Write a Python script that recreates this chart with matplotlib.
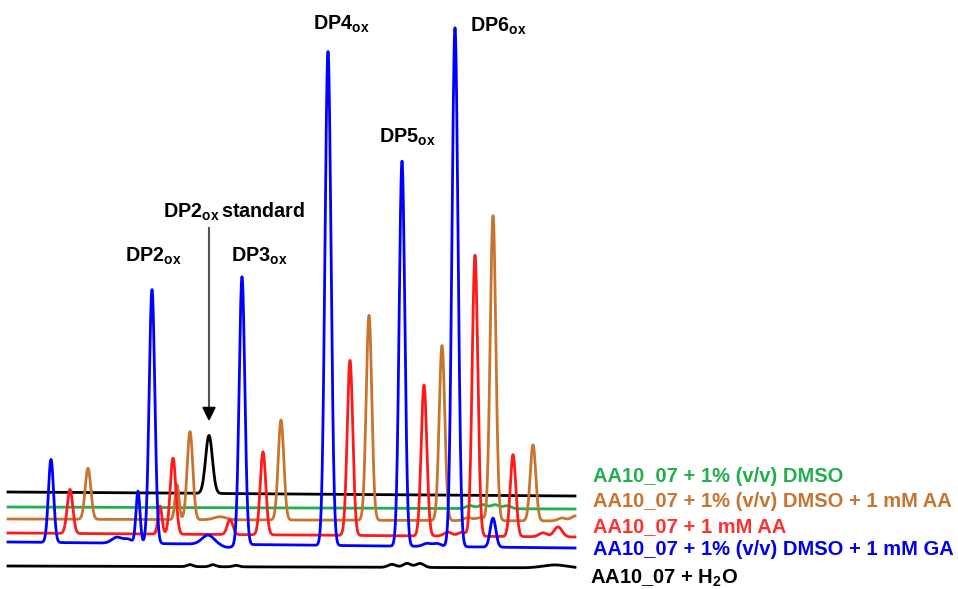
import matplotlib.pyplot as plt
import numpy as np

plt.rcParams.update({
    "font.family": "Liberation Sans",
    "font.weight": "bold",
    "mathtext.fontset": "custom",
    "mathtext.rm": "Liberation Sans:bold",
    "mathtext.it": "Liberation Sans:bold",
    "mathtext.bf": "Liberation Sans:bold",
})

# --- peak tables: retention time (min), height, width (sigma, min) ---
std_rt = [10.45]
std_h = [58]
std_w = [0.17]

dmso_rt = [23.5, 24.15, 24.75, 25.35]
dmso_h = [3, 4, 4, 3]
dmso_w = [0.2, 0.2, 0.2, 0.2]

dmso_aa_rt = [4.4, 8.85, 9.5, 11.0, 14.05, 18.45, 22.1, 23.4, 24.0, 24.65, 26.65, 28.1, 28.75]
dmso_aa_h = [51, 35, 88, 3, 100, 205, 175, 3, 3, 305, 76, 3, 5]
dmso_aa_w = [0.14, 0.1, 0.14, 0.3, 0.14, 0.14, 0.14, 0.2, 0.2, 0.14, 0.14, 0.2, 0.2]

aa_rt = [3.5, 8.0, 8.65, 11.5, 13.15, 17.5, 21.2, 22.4, 23.1, 23.75, 25.65, 27.15, 27.9]
aa_h = [44, 28, 76, 15, 83, 175, 151, 4, 4, 281, 82, 4, 10]
aa_w = [0.14, 0.1, 0.14, 0.14, 0.14, 0.14, 0.14, 0.2, 0.2, 0.14, 0.14, 0.2, 0.2]

ga_rt = [2.55, 5.85, 6.4, 6.9, 7.6, 10.4, 11.4, 12.1, 16.4, 20.1, 21.35, 21.85, 22.75, 24.65]
ga_h = [83, 6, 4, 52, 254, 9, -3, 268, 494, 385, 3, 3, 519, 29]
ga_w = [0.13, 0.25, 0.2, 0.1, 0.14, 0.3, 0.3, 0.14, 0.15, 0.14, 0.2, 0.2, 0.15, 0.14]

h2o_rt = [9.5, 10.65, 11.8, 19.6, 20.35, 21.0, 27.75]
h2o_h = [2, 2, 1.5, 3, 4, 4, 3]
h2o_w = [0.15, 0.15, 0.15, 0.2, 0.2, 0.2, 0.6]

# baseline drift over the run
std_drift = -4
dmso_drift = -2
dmso_aa_drift = -2
aa_drift = -4
ga_drift = -6
h2o_drift = -2

t = np.linspace(0.4, 28.75, 3000)


def trace(rt, h, w, drift):
    y = drift * (t - t[0]) / (t[-1] - t[0])
    for r, a, s in zip(rt, h, w):
        y = y + a * np.exp(-0.5 * ((t - r) / s) ** 2)
    return y


fig = plt.figure(figsize=(9.58, 5.89), dpi=100)
ax = fig.add_axes([0, 0, 1, 1])
ax.set_xlim(0, 47.9)
ax.set_ylim(0, 589)
ax.axis("off")

lw = 2.0
green = "#1fb04b"
orange = "#c8742f"
red = "#ff1a1a"
blue = "#0000ff"

ax.plot(t, 97 + trace(std_rt, std_h, std_w, std_drift), color="black", lw=lw)
ax.plot(t, 82 + trace(dmso_rt, dmso_h, dmso_w, dmso_drift), color=green, lw=lw)
ax.plot(t, 70 + trace(dmso_aa_rt, dmso_aa_h, dmso_aa_w, dmso_aa_drift), color=orange, lw=lw)
ax.plot(t, 56 + trace(aa_rt, aa_h, aa_w, aa_drift), color=red, lw=lw)
ax.plot(t, 47 + trace(ga_rt, ga_h, ga_w, ga_drift), color=blue, lw=lw)
ax.plot(t, 23 + trace(h2o_rt, h2o_h, h2o_w, h2o_drift), color="black", lw=lw)

# peak labels
fs = 14.2
ax.text(6.25, 327, r"DP2$_{\mathrm{ox}}$", fontsize=fs, va="baseline")
ax.text(8.15, 371, r"DP2$_{\mathrm{ox}}\,$standard", fontsize=fs, va="baseline")
ax.text(11.55, 327, r"DP3$_{\mathrm{ox}}$", fontsize=fs, va="baseline")
ax.text(15.65, 559, r"DP4$_{\mathrm{ox}}$", fontsize=fs, va="baseline")
ax.text(18.95, 446, r"DP5$_{\mathrm{ox}}$", fontsize=fs, va="baseline")
ax.text(23.5, 557, r"DP6$_{\mathrm{ox}}$", fontsize=fs, va="baseline")

# arrow to the standard peak
ax.plot([10.45, 10.45], [361, 175], color="#555555", lw=1.5)
ax.annotate("", xy=(10.45, 165), xytext=(10.45, 180),
            arrowprops=dict(arrowstyle="-|>", color="black", lw=1.5,
                            mutation_scale=20))

# sample labels
lx = 29.65
ax.text(lx, 107, "AA10_07 + 1% (v/v) DMSO", color=green, fontsize=14.5, va="baseline")
ax.text(lx, 82, "AA10_07 + 1% (v/v) DMSO + 1 mM AA", color=orange, fontsize=14.5, va="baseline")
ax.text(lx, 57, "AA10_07 + 1 mM AA", color="#ff3030", fontsize=14.5, va="baseline")
ax.text(lx, 34, "AA10_07 + 1% (v/v) DMSO + 1 mM GA", color="#0000ee", fontsize=14.5, va="baseline")
ax.text(29.5, 5, r"AA10_07 + H$_{2}$O", color="black", fontsize=14.5, va="baseline")

fig.savefig("out.png", dpi=100)
